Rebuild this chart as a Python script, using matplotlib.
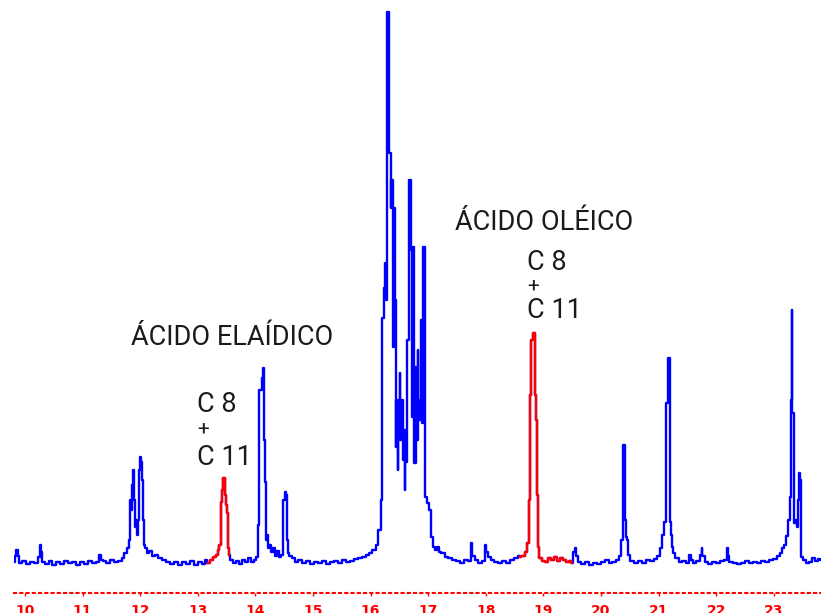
import matplotlib
matplotlib.use("Agg")
import matplotlib.pyplot as plt
import numpy as np

# detector scans (1 scan per sample) and signal
scan = [0, 2, 3, 4, 6, 10, 14, 18, 22, 25, 26, 27, 29, 33, 36, 40, 44, 48, 52, 56,
        60, 64, 68, 72, 76, 80, 84, 86, 87, 90, 94, 98, 102, 106, 109, 112, 114,
        115, 116, 117, 118, 119, 120, 121, 122, 123, 124, 125, 126, 127, 128, 129,
        130, 132, 134, 136, 139, 142, 146, 150, 154, 158, 162, 166, 170, 174, 178,
        182, 186, 190, 192,
        194, 197, 200, 203, 204, 206, 207, 208, 209, 210, 211, 212, 213, 214, 215,
        217, 220, 223, 226, 229, 232, 235, 238, 241, 243, 244, 246, 247, 248, 249,
        250, 251, 252, 253, 254, 256, 258, 260, 262, 264, 266, 268, 270, 271, 272,
        273, 274, 276, 279, 282, 286, 290, 294, 298, 302, 306, 310, 314, 318, 322,
        326, 330, 334, 338, 342, 346, 350, 353, 356, 360, 363, 366, 368,
        369, 370, 371, 372, 373, 374, 375, 376, 377, 378, 379, 380, 381, 382, 383,
        384, 385, 386, 387, 388, 389, 390, 391, 392, 393, 394, 395, 396, 397, 398,
        399, 400, 401, 402, 403, 404, 405, 406, 407, 408, 409, 410, 411, 412, 414,
        416, 418, 420, 422, 424, 426, 429, 432, 436, 440, 444, 448, 452, 456, 458,
        459, 462, 466, 470, 472, 473, 475, 478, 482, 486, 490, 494, 498, 502, 505,
        506, 509, 512, 514, 515, 516, 517, 518, 519, 520, 521, 522, 523, 524, 526,
        529, 532, 535, 538, 541, 544, 547, 550, 553, 556, 558,
        560, 561, 562, 565, 569, 573, 577, 581, 585, 589, 593, 596, 600, 604, 606,
        607, 608, 609, 610, 611, 612, 613, 615, 618, 622, 626, 630, 634, 638, 642,
        645, 647, 649, 650, 651, 652, 653, 654, 655, 656, 657, 658, 660, 663, 666,
        670, 674, 676, 677, 680, 684, 687, 688, 689, 692, 696, 700, 704, 708, 712,
        713, 714, 717, 721, 725, 729, 733, 737, 741, 745, 749, 753, 757, 761, 764,
        767, 769, 771, 773, 775, 776, 777, 778, 779, 780, 781, 782, 783, 784, 785,
        786, 787, 788, 790, 793, 796, 799, 802, 805, 807]

signal = [1, 7, 13, 7, 0, 2, -1, 1, 0, 6, 18, 11, 1, -1, 2, -2, 1, -1, 2, 0,
          1, -2, 1, -1, 2, 0, 1, 8, 3, 2, 0, 3, 1, 2, 5, 10, 15,
          23, 63, 53, 78, 93, 63, 36, 43, 28, 43, 93, 106, 101, 83, 43,
          18, 15, 10, 12, 7, 8, 5, 3, 1, -1, 1, -2, 1, -1, 2,
          -2, 1, -1, 3,
          0, 3, 6, 8, 13, 18, 61, 73, 85, 85, 68, 58, 50, 15, 8,
          3, 0, 2, -1, 3, 1, 5, 1, 3, 6, 38, 173, 173, 185, 195,
          123, 81, 23, 28, 15, 18, 11, 15, 7, 12, 6, 8, 63, 71, 68,
          23, 10, 7, 5, 1, 3, 0, 2, -1, 1, 0, 2, -1, 1, 2,
          0, 3, 1, 2, 4, 5, 6, 8, 10, 13, 18, 33, 63,
          245, 275, 300, 263, 363, 551, 463, 410, 355, 383, 216, 355, 263, 116, 163,
          93, 150, 190, 123, 163, 103, 133, 73, 101, 140, 223, 263, 383, 313, 146,
          316, 183, 100, 196, 123, 213, 143, 163, 243, 140, 263, 316, 170, 66, 60,
          53, 26, 16, 13, 16, 11, 10, 6, 5, 3, 2, 0, 3, 2, 20,
          7, 3, 0, 2, 18, 11, 6, 3, 1, 0, 2, 0, 3, 5, 7,
          6, 7, 11, 20, 63, 168, 173, 223, 230, 230, 168, 143, 68, 16, 5,
          2, 1, 5, 3, 6, 2, 5, 3, 1, 2, 0,
          11, 15, 7, 1, -1, 1, -2, 0, -1, 1, 3, 0, 1, 3, 7,
          18, 23, 118, 118, 43, 26, 23, 8, 2, 0, 2, 0, 3, 2, 4,
          7, 15, 28, 41, 41, 160, 160, 205, 205, 41, 28, 16, 10, 5, 1,
          2, 0, 8, 3, 0, 2, 8, 15, 7, 1, -1, 1, 0, 2, 3,
          15, 7, 1, 0, -1, 0, 2, 0, 1, 0, 2, 1, 3, 4, 7,
          10, 15, 18, 27, 43, 66, 163, 253, 150, 63, 40, 43, 36, 63, 90,
          83, 71, 6, 3, 0, 1, 5, 2, 4, 3]

# scan windows of the C 8 + C 11 peaks (drawn in red)
red_windows = [(194, 215), (506, 558)]

scan_rate = 57.6      # scans per minute
t_start = 9.809       # minutes at scan 0
tick_min = list(range(10, 24))
tick_labels = [str(m) for m in tick_min]

scan = np.array(scan)
signal = np.array(signal)
t = t_start + scan / scan_rate

fig = plt.figure(figsize=(8.21, 6.13), dpi=100)
ax = fig.add_axes([14 / 821, 20 / 613, 807 / 821, 593 / 613])

ax.plot(t, signal, color="#0000ff", lw=1.7, drawstyle="steps-mid")
for a, b in red_windows:
    m = (scan >= a) & (scan <= b)
    ax.plot(t[m], signal[m], color="#ff0000", lw=1.7, drawstyle="steps-mid")

ax.set_xlim(t_start, t_start + 807 / scan_rate)
ax.set_ylim(-30, 563)

for s in ["top", "right", "left"]:
    ax.spines[s].set_visible(False)
ax.spines["bottom"].set_color("#ff0000")
ax.spines["bottom"].set_linestyle((0, (1, 2)))
ax.spines["bottom"].set_linewidth(1.5)
ax.set_yticks([])
ax.set_xticks(tick_min)
ax.set_xticklabels(tick_labels, color="#ff0000", fontsize=10, fontweight="bold")
ax.tick_params(axis="x", colors="#ff0000", length=2, width=1, pad=6)

tc = "#1a1a1a"
fs = 19.5
fam = "Roboto"
ax.text(131 / 821, (613 - 345) / 613, "ÁCIDO ELAÍDICO", transform=fig.transFigure,
        fontsize=fs, family=fam, color=tc, ha="left", va="baseline")
ax.text(197 / 821, (613 - 412) / 613, "C 8", transform=fig.transFigure,
        fontsize=fs, family=fam, color=tc, ha="left", va="baseline")
ax.text(197 / 821, (613 - 429) / 613, "+", transform=fig.transFigure,
        fontsize=15, family=fam, color=tc, ha="left", va="center")
ax.text(197 / 821, (613 - 465) / 613, "C 11", transform=fig.transFigure,
        fontsize=fs, family=fam, color=tc, ha="left", va="baseline")

ax.text(455 / 821, (613 - 230) / 613, "ÁCIDO OLÉICO", transform=fig.transFigure,
        fontsize=fs, family=fam, color=tc, ha="left", va="baseline")
ax.text(527 / 821, (613 - 270) / 613, "C 8", transform=fig.transFigure,
        fontsize=fs, family=fam, color=tc, ha="left", va="baseline")
ax.text(527 / 821, (613 - 286) / 613, "+", transform=fig.transFigure,
        fontsize=15, family=fam, color=tc, ha="left", va="center")
ax.text(527 / 821, (613 - 318) / 613, "C 11", transform=fig.transFigure,
        fontsize=fs, family=fam, color=tc, ha="left", va="baseline")

fig.savefig("out.png", dpi=100)
